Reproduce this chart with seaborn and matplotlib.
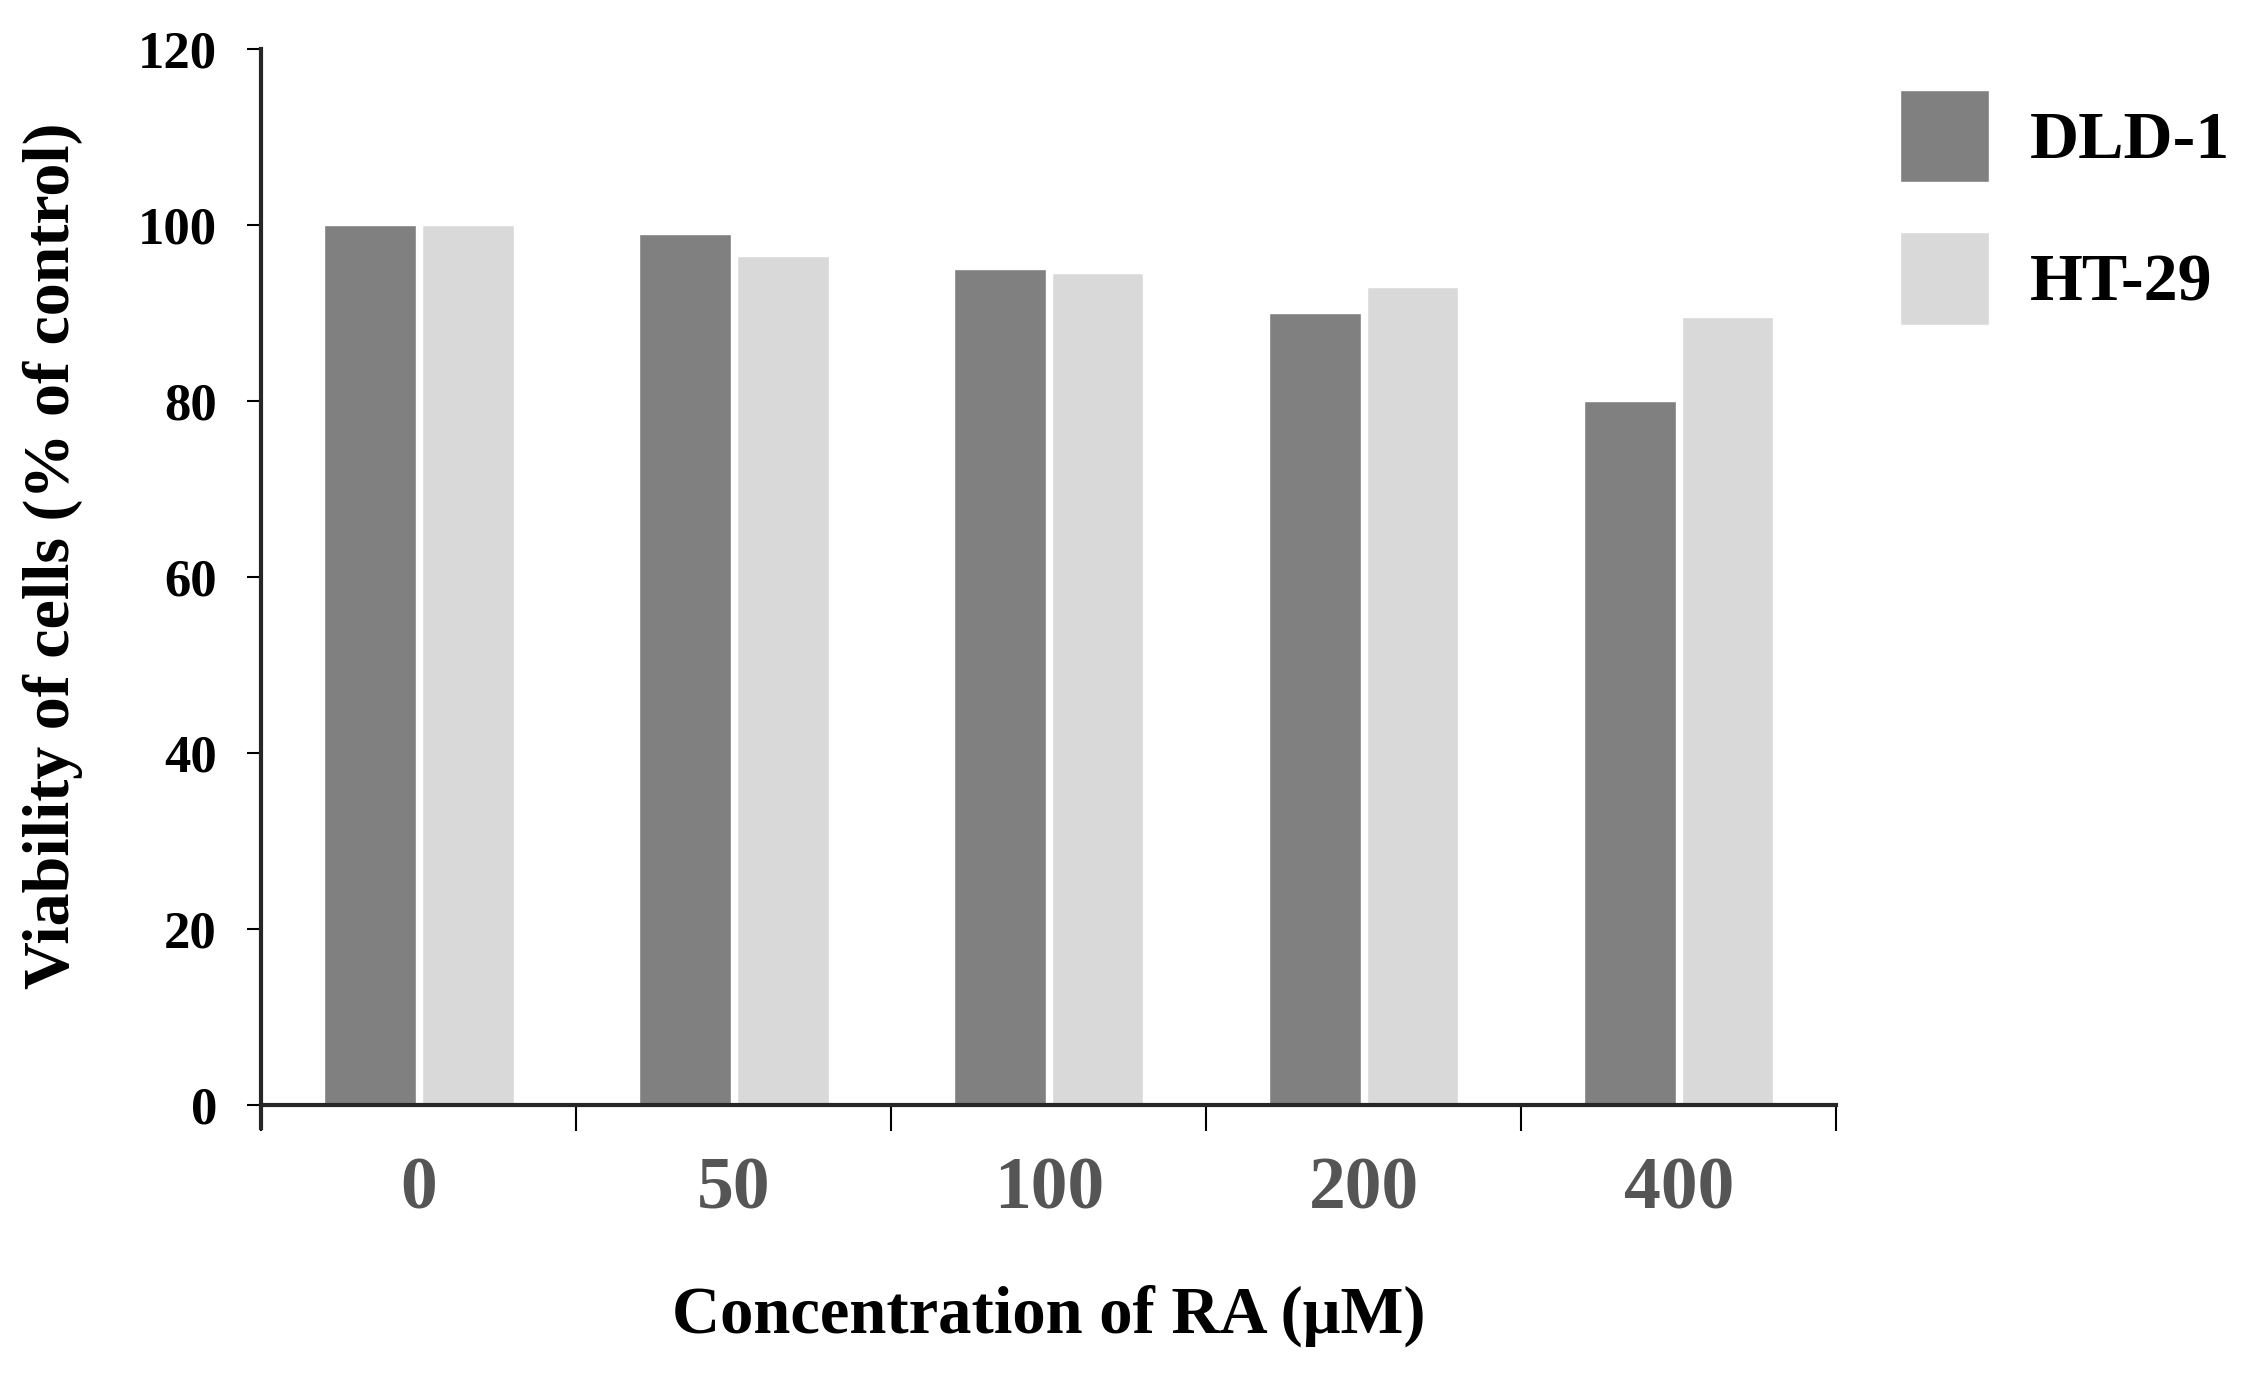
import pandas as pd
import matplotlib.pyplot as plt
import seaborn as sns

concentrations = ["0", "50", "100", "200", "400"]
dld1 = [100, 99, 95, 90, 80]
ht29 = [100, 96.5, 94.5, 93, 89.5]
lines = ["DLD-1", "HT-29"]
colors = ["#808080", "#d9d9d9"]

df = pd.DataFrame({
    "conc": concentrations * 2,
    "viability": dld1 + ht29,
    "line": [lines[0]] * 5 + [lines[1]] * 5,
})

sns.set_style("white")
plt.rcParams["font.family"] = ["Liberation Serif", "DejaVu Serif"]
plt.rcParams["font.weight"] = "bold"
plt.rcParams["text.color"] = "black"
plt.rcParams["axes.labelcolor"] = "black"
plt.rcParams["ytick.color"] = "black"

fig = plt.figure(figsize=(22.53, 13.88), dpi=100)
ax = fig.add_axes([0.116, 0.1873, 0.699, 0.7774])

sns.barplot(data=df, x="conc", y="viability", hue="line", order=concentrations,
            hue_order=lines, palette=colors, saturation=1, width=0.62, gap=0.06,
            ax=ax)

ax.set_xlim(-0.5, 4.5)
ax.set_ylim(-2.6, 120)
ax.set_yticks(range(0, 121, 20))
ax.spines["bottom"].set_position(("data", 0))
ax.spines["bottom"].set_linewidth(3)
ax.spines["left"].set_linewidth(3)
ax.spines["left"].set_bounds(-2.6, 120)
for s in ["top", "right"]:
    ax.spines[s].set_visible(False)

# ticks between the groups, labels at the centres
ax.set_xticks([i - 0.5 for i in range(6)], minor=True)
ax.tick_params(axis="x", which="minor", direction="out", length=19, width=1.5,
               color="black", bottom=True)
ax.tick_params(axis="x", which="major", length=0, pad=37, labelsize=53,
               labelcolor="#555555")
ax.tick_params(axis="y", which="major", direction="out", length=10, width=1.5,
               color="black", left=True, pad=22, labelsize=38)
for lab in ax.get_xticklabels() + ax.get_yticklabels():
    lab.set_fontweight("bold")

ax.set_xlabel("Concentration of RA (μM)", fontsize=48, fontweight="bold")
ax.xaxis.set_label_coords(0.5, -0.145)
ax.set_ylabel("Viability of cells (% of control)", fontsize=47.5, fontweight="bold")
ax.yaxis.set_label_coords(-0.1135, 0.53)

handles, labels = ax.get_legend_handles_labels()
ax.legend(handles, labels, loc="upper left", bbox_to_anchor=(0.828, 0.96),
          bbox_transform=fig.transFigure, frameon=False, borderpad=0,
          handlelength=1.32, handleheight=1.72, handletextpad=0.6,
          labelspacing=0.73, prop={"family": "Liberation Serif", "weight": "bold",
                                   "size": 49})

fig.savefig("out.png", dpi=100)
